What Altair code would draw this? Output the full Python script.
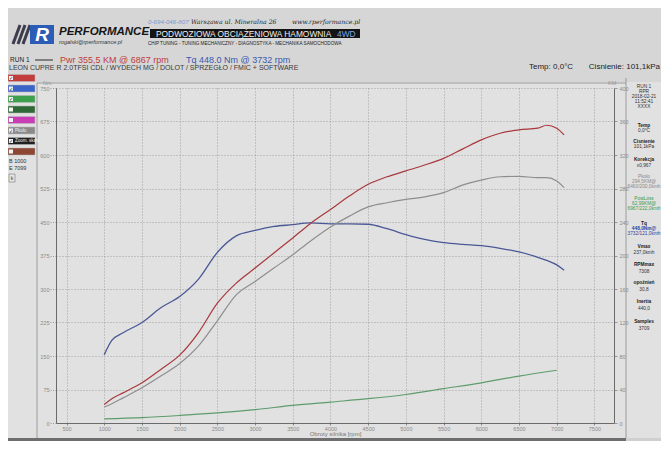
import altair as alt
import pandas as pd

# ---------------- data ----------------
rpm = [1000, 1100, 1250, 1500, 1750, 2000, 2250, 2500, 2750, 3000, 3250, 3500, 3732,
       4000, 4250, 4500, 4750, 5000, 5250, 5500, 5750, 6000, 6250, 6500, 6750, 6867, 7000, 7099]
torque_nm = [153, 185, 202, 225, 258, 283, 322, 382, 419, 431, 440, 444, 448,
             446, 446, 445, 435, 422, 411, 404, 400, 397, 391, 383, 371, 364, 354, 342]
power_km = [22, 29, 36, 48, 64, 81, 108, 143, 167, 185, 203, 221, 238,
            255, 271, 285, 294, 301, 308, 316, 327, 338, 346, 350, 352, 355.5, 352, 344]
wheel_km = [19, 23, 30, 42, 56, 71, 92, 122, 153, 169, 185, 201, 217,
            234, 247, 258, 263, 267, 270, 275, 284, 290, 294, 294.5, 293, 293, 289, 281]
loss_rpm = [1000, 1500, 2000, 2500, 3000, 3500, 4000, 4500, 5000, 5500, 6000, 6500, 7000]
loss_km = [5, 6.5, 9, 12, 16, 21, 25, 29, 34, 41, 48, 56, 63]

rpm_ticks = list(range(500, 7501, 500))
nm_ticks = list(range(0, 751, 75))
km_ticks = list(range(0, 401, 40))

series_names = ["Pkoło", "Pstrat", "Pwr"]
series_colors = ["#8e8e8e", "#5e9c6c", "#a8383c"]

info_lines = [
    ("RUN 1", 87, "#333", "normal"), ("RPR", 92, "#333", "normal"),
    ("2018-02-21", 97, "#333", "normal"), ("11:52:41", 102, "#333", "normal"),
    ("XXXX", 107, "#333", "normal"),
    ("Temp", 126, "#222", "bold"), ("0,0°C", 131, "#333", "normal"),
    ("Cisnienie", 142, "#222", "bold"), ("101,1kPa", 147, "#333", "normal"),
    ("Korekcja", 160, "#222", "bold"), ("x0,967", 166, "#333", "normal"),
    ("Pkoło", 177, "#8a8a8a", "normal"), ("294,5KM@", 182, "#8a8a8a", "normal"),
    ("6460/200,0kmh", 187, "#8a8a8a", "normal"),
    ("PowLoss", 199, "#3c9a4c", "normal"), ("62,99KM@", 204, "#3c9a4c", "normal"),
    ("6967/222,0kmh", 209, "#3c9a4c", "normal"),
    ("Tq", 224, "#222", "bold"), ("448,0Nm@", 229, "#2c44a0", "bold"),
    ("3732/121,0kmh", 234, "#2c44a0", "normal"),
    ("Vmax", 247, "#222", "bold"), ("237,0kmh", 253, "#333", "normal"),
    ("RPMmax", 265, "#222", "bold"), ("7308", 272, "#333", "normal"),
    ("opoźnień", 283, "#222", "bold"), ("30,8", 290, "#333", "normal"),
    ("Inertia", 302, "#222", "bold"), ("440,0", 309, "#333", "normal"),
    ("Samples", 322, "#222", "bold"), ("3709", 329, "#333", "normal"),
]

legend_colors = ["#c23c3c", "#3a64c8", "#3ca04c", "#2f6a36", "#c83cb4", "#8a8a8a", "#202020", "#8c4632"]
legend_checked = [True, True, True, False, False, True, True, False]
legend_labels = ["", "", "", "", "", "Pkoło", "Zoom. skala", ""]

# ---------------- layout ----------------
X0, Y0 = 56, 88          # page position of plot origin
W, H = 558, 335
SANS = "Liberation Sans, Arial"

one = pd.DataFrame({"k": [0]})


def txt(s, px, py, size=7, color="#333", align="left", weight="normal", style="normal", font=SANS):
    return alt.Chart(one).mark_text(
        text=s, align=align, baseline="middle", fontSize=size, color=color,
        fontWeight=weight, fontStyle=style, font=font
    ).encode(x=alt.value(px - X0), y=alt.value(py - Y0))


def box(x1, y1, x2, y2, fill, stroke=None, sw=0.6):
    kw = dict(color=fill)
    if stroke:
        kw.update(stroke=stroke, strokeWidth=sw)
    return alt.Chart(one).mark_rect(**kw).encode(
        x=alt.value(x1 - X0), x2=alt.value(x2 - X0), y=alt.value(y1 - Y0), y2=alt.value(y2 - Y0))


def rule(x1, y1, x2, y2, color, sw=1.0):
    return alt.Chart(one).mark_rule(color=color, strokeWidth=sw).encode(
        x=alt.value(x1 - X0), x2=alt.value(x2 - X0), y=alt.value(y1 - Y0), y2=alt.value(y2 - Y0))


xscale = alt.Scale(domain=[360, 7760], nice=False, zero=False)
nm_scale = alt.Scale(domain=[0, 750], nice=False)
km_scale = alt.Scale(domain=[0, 400], nice=False)

x_axis = alt.Axis(values=rpm_ticks, format="d", title="Obroty silnika [rpm]", grid=True, gridDash=[1, 2],
                  gridColor="#8f8f8f", gridWidth=0.8, labelFontSize=5.5, labelColor="#8a8a8a",
                  labelFont=SANS, tickColor="#888", tickSize=2, domainColor="#6a6a6a",
                  titleFontSize=6, titleColor="#777", titleFontWeight="normal", titleFont=SANS,
                  titlePadding=-1, labelPadding=1)

tq_df = pd.DataFrame({"rpm": rpm, "Nm": torque_nm})
torque = alt.Chart(tq_df).mark_line(color="#4a5896", strokeWidth=1.3, interpolate="monotone").encode(
    x=alt.X("rpm:Q", scale=xscale, axis=x_axis),
    y=alt.Y("Nm:Q", scale=nm_scale,
            axis=alt.Axis(values=nm_ticks, title=None, grid=True, gridDash=[1, 2], gridColor="#8f8f8f",
                          gridWidth=0.8, labelFontSize=5.5, labelColor="#8a8a8a", labelFont=SANS,
                          tickColor="#999", tickSize=6, tickDash=[1, 1.5], domainColor="#6a6a6a",
                          labelPadding=1, orient="left")),
)

n = len(rpm)
pw_df = pd.DataFrame({
    "rpm": rpm + rpm + loss_rpm,
    "KM": wheel_km + power_km + loss_km,
    "s": ["Pkoło"] * n + ["Pwr"] * n + ["Pstrat"] * len(loss_rpm),
})
power = alt.Chart(pw_df).mark_line(strokeWidth=1.2, interpolate="monotone").encode(
    x=alt.X("rpm:Q", scale=xscale, axis=x_axis),
    y=alt.Y("KM:Q", scale=km_scale,
            axis=alt.Axis(values=km_ticks, title=None, grid=False, orient="right", labelFontSize=5.5,
                          labelColor="#8a8a8a", labelFont=SANS, tickColor="#999", tickSize=3,
                          domainColor="#6a6a6a", labelPadding=2)),
    color=alt.Color("s:N", scale=alt.Scale(domain=series_names, range=series_colors), legend=None),
)

decor = []
# background regions
decor.append(box(8, 8, 661, 82, "#d6d6d6"))
decor.append(box(8, 438, 626, 441, "#6e6e6e"))
decor.append(box(626, 438, 661, 441, "#cfcfcf"))
# frame lines
decor.append(rule(37, 83, 626, 83, "#8a8a8a", 0.8))
decor.append(rule(37, 83, 37, 438, "#8a8a8a", 0.8))
decor.append(rule(626, 78, 626, 438, "#8a8a8a", 0.8))

# logo
for i in range(3):
    decor.append(rule(13 + 5 * i, 44, 20 + 5 * i, 25, "#3c3c4c", 3))
decor.append(box(30, 25, 54, 44, "#2c5db6"))
decor.append(txt("R", 42, 35, 19, "#ffffff", "center", "bold", "italic"))
decor.append(txt("PERFORMANCE", 59, 32, 11.5, "#151515", "left", "bold", "italic"))
decor.append(txt("rogalski@rperformance.pl", 59, 41.5, 5.5, "#333", "left", "normal", "italic"))

# header lines
decor.append(txt("0-694-046-807", 148, 22, 6.2, "#7a98cf", "left", "normal", "italic"))
decor.append(txt("Warszawa ul. Mineralna 26", 191, 22, 6.2, "#222", "left", "normal", "italic", "DejaVu Serif"))
decor.append(txt("www.rperformance.pl", 292, 22, 6.2, "#222", "left", "normal", "italic", "DejaVu Serif"))
decor.append(box(150, 29, 360, 38, "#141414"))
decor.append(txt("PODWOZIOWA OBCIĄŻENIOWA HAMOWNIA", 156, 33.5, 8.4, "#f0f0f0", "left"))
decor.append(txt("4WD", 337, 33.5, 8.4, "#7fa6e6", "left"))
decor.append(txt("CHIP TUNING - TUNING MECHANICZNY - DIAGNOSTYKA - MECHANIKA SAMOCHODOWA",
                 148, 43.5, 4.6, "#222", "left"))

decor.append(txt("RUN 1", 10, 60, 6.5, "#222", "left"))
decor.append(rule(35, 60, 53, 60, "#2a2a2a", 1))
decor.append(txt("Pwr  355,5 KM @ 6867 rpm", 60, 59.5, 9, "#c03a3a", "left"))
decor.append(txt("Tq 448.0 Nm @ 3732 rpm", 186, 59.5, 9, "#3a56b0", "left"))
decor.append(txt("LEON CUPRE R 2.0TFSI CDL /  WYDECH MG / DOLOT / SPRZEGŁO / FMIC + SOFTWARE",
                 9, 67.5, 7.0, "#3a3a3a", "left"))
decor.append(txt("Temp: 0,0°C", 529, 66.5, 8, "#222", "left"))
decor.append(txt("Cisnienie: 101,1kPa", 660, 66.5, 8, "#222", "right"))

# axis unit titles
decor.append(txt("Nm", 43, 82.5, 5.5, "#999", "left"))
decor.append(txt("KM", 608, 83, 5.5, "#999", "left"))

# left legend panel
for i, (c, chk, lab) in enumerate(zip(legend_colors, legend_checked, legend_labels)):
    top = 74.5 + 10.5 * i
    decor.append(box(8, top, 35, top + 7, c, "#bbbbbb", 0.5))
    decor.append(box(9, top + 1.5, 13, top + 5.5, "#f4f4f4"))
    if chk:
        decor.append(txt("✓", 11, top + 3.5, 5, "#222", "center", "bold", "normal", "DejaVu Sans"))
    if lab:
        decor.append(txt(lab, 15, top + 3.5, 4.5, "#f0f0f0", "left"))
decor.append(txt("B 1000", 9, 161, 5.5, "#333", "left"))
decor.append(txt("E 7099", 9, 168, 5.5, "#333", "left"))
decor.append(box(9, 174, 15, 182, "#e6e6e6", "#777", 0.6))
decor.append(txt("k", 12, 178, 5, "#333", "center"))

# right info panel
for s, yy, col, wt in info_lines:
    decor.append(txt(s, 644, yy, 4.8, col, "center", wt, "normal"))

chart = alt.layer(
    *decor[:6], torque, power, *decor[6:]
).resolve_scale(y="independent").properties(
    width=W, height=H,
    padding={"left": X0 - 8, "top": Y0 - 8, "right": 653 - (X0 - 8) - W, "bottom": 433 - (Y0 - 8) - H},
    autosize=alt.AutoSizeParams(type="none"),
    background="#e1e1e1",
).configure_view(stroke=None)

chart.save("out.html", embed_options={"renderer": "svg", "actions": False})
